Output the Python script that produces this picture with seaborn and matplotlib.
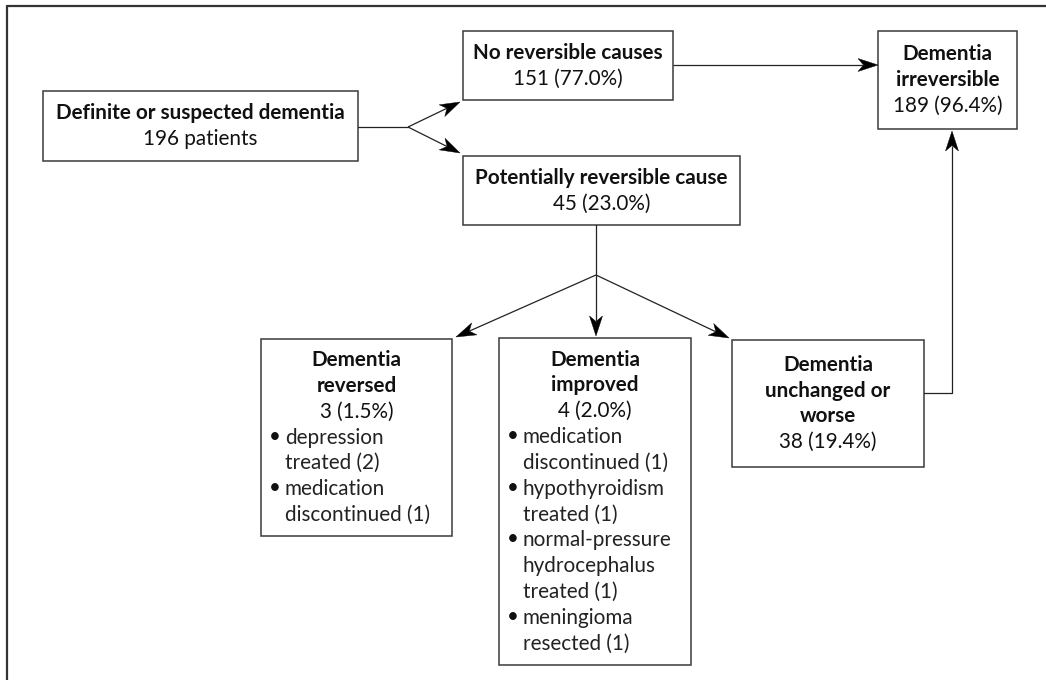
import numpy as np
import matplotlib.pyplot as plt
import seaborn as sns
from matplotlib.patches import Rectangle, Polygon

sns.set_theme(style='white')
plt.rcParams['font.family'] = ['Lato', 'DejaVu Sans']

# data
total_patients = 196
node_titles = ['Definite or suspected dementia', 'No reversible causes',
               'Potentially reversible cause', 'Dementia\nirreversible',
               'Dementia\nreversed', 'Dementia\nimproved',
               'Dementia\nunchanged or\nworse']
node_counts = [196, 151, 45, 189, 3, 4, 38]
node_pcts = [None, 77.0, 23.0, 96.4, 1.5, 2.0, 19.4]

reversed_causes = ['depression\ntreated', 'medication\ndiscontinued']
reversed_cause_n = [2, 1]
improved_causes = ['medication\ndiscontinued', 'hypothyroidism\ntreated',
                   'normal-pressure\nhydrocephalus\ntreated',
                   'meningioma\nresected']
improved_cause_n = [1, 1, 1, 1]

# layout (pixel coordinates, y down): x0, y0, x1, y1
boxes = [(43, 91, 358, 161), (463, 31, 673, 100), (463, 156, 740, 225),
         (878, 31, 1017, 129), (261, 339, 452, 536), (499, 338, 691, 665),
         (732, 340, 924, 467)]
line_gap = 25.8
line_col = '#222222'
fs = 14.9

fig = plt.figure(figsize=(10.46, 6.8), dpi=100)
ax = fig.add_axes([0, 0, 1, 1])
ax.set_xlim(0, 1046)
ax.set_ylim(680, 0)
ax.axis('off')

# partial frame
ax.plot([7, 1046], [6, 6], color='#333333', lw=1.6)
ax.plot([7, 7], [6, 680], color='#333333', lw=1.6)


def Arrow(ax, x0, y0, x1, y1, length=20, half=6.5, notch=5.5):
    d = np.array([x1 - x0, y1 - y0], float)
    d /= np.hypot(*d)
    n = np.array([-d[1], d[0]])
    tip = np.array([x1, y1], float)
    base = tip - d * length
    ax.plot([x0, base[0] + d[0] * notch], [y0, base[1] + d[1] * notch],
            color=line_col, lw=0.9, solid_capstyle='butt')
    pts = [tip, base + n * half, base + d * notch, base - n * half]
    ax.add_patch(Polygon(pts, closed=True, color='black', lw=0.3))


def Line(ax, xs, ys):
    ax.plot(xs, ys, color=line_col, lw=0.9)


def DrawNode(ax, box, title, count, pct, causes=None, cause_n=None):
    x0, y0, x1, y1 = box
    ax.add_patch(Rectangle((x0, y0), x1 - x0, y1 - y0, fill=False,
                           edgecolor='#3a3a3a', lw=1.1))
    lines = [(t, 'bold', 'c') for t in title.split('\n')]
    if pct is None:
        lines.append((f'{count} patients', 'normal', 'c'))
    else:
        lines.append((f'{count} ({pct:.1f}%)', 'normal', 'c'))
    if causes:
        for c, k in zip(causes, cause_n):
            parts = (c + f' ({k})').split('\n')
            for i, p in enumerate(parts):
                lines.append((p, 'normal', 'b' if i == 0 else 'l'))
    cy = (y0 + y1) / 2
    start = cy - line_gap * (len(lines) - 1) / 2
    xc = (x0 + x1) / 2
    for i, (t, w, kind) in enumerate(lines):
        y = start + i * line_gap
        if kind == 'c':
            ax.text(xc, y, t, ha='center', va='center', fontsize=fs,
                    fontweight=w, color='#111111')
        else:
            ax.text(x0 + 24, y, t, ha='left', va='center', fontsize=fs,
                    color='#222222')
            if kind == 'b':
                ax.text(x0 + 14, y - 1, '\u2022', ha='center', va='center',
                        fontsize=fs, color='#111111')


for i, (box, title) in enumerate(zip(boxes, node_titles)):
    causes, cn = None, None
    if i == 4:
        causes, cn = reversed_causes, reversed_cause_n
    elif i == 5:
        causes, cn = improved_causes, improved_cause_n
    DrawNode(ax, box, title, node_counts[i], node_pcts[i], causes, cn)

# connectors
Line(ax, [358, 408], [127, 127])
Arrow(ax, 408, 127, 460, 102)
Arrow(ax, 408, 127, 460, 153)
Arrow(ax, 673, 65, 878, 65)
Line(ax, [596, 596], [225, 275])
Arrow(ax, 596, 275, 456, 337)
Arrow(ax, 596, 275, 596, 336)
Arrow(ax, 596, 275, 729, 338)
Line(ax, [924, 952, 952], [393, 393, 200])
Arrow(ax, 952, 200, 952, 131)

fig.savefig('out.png', dpi=100, facecolor='white')
